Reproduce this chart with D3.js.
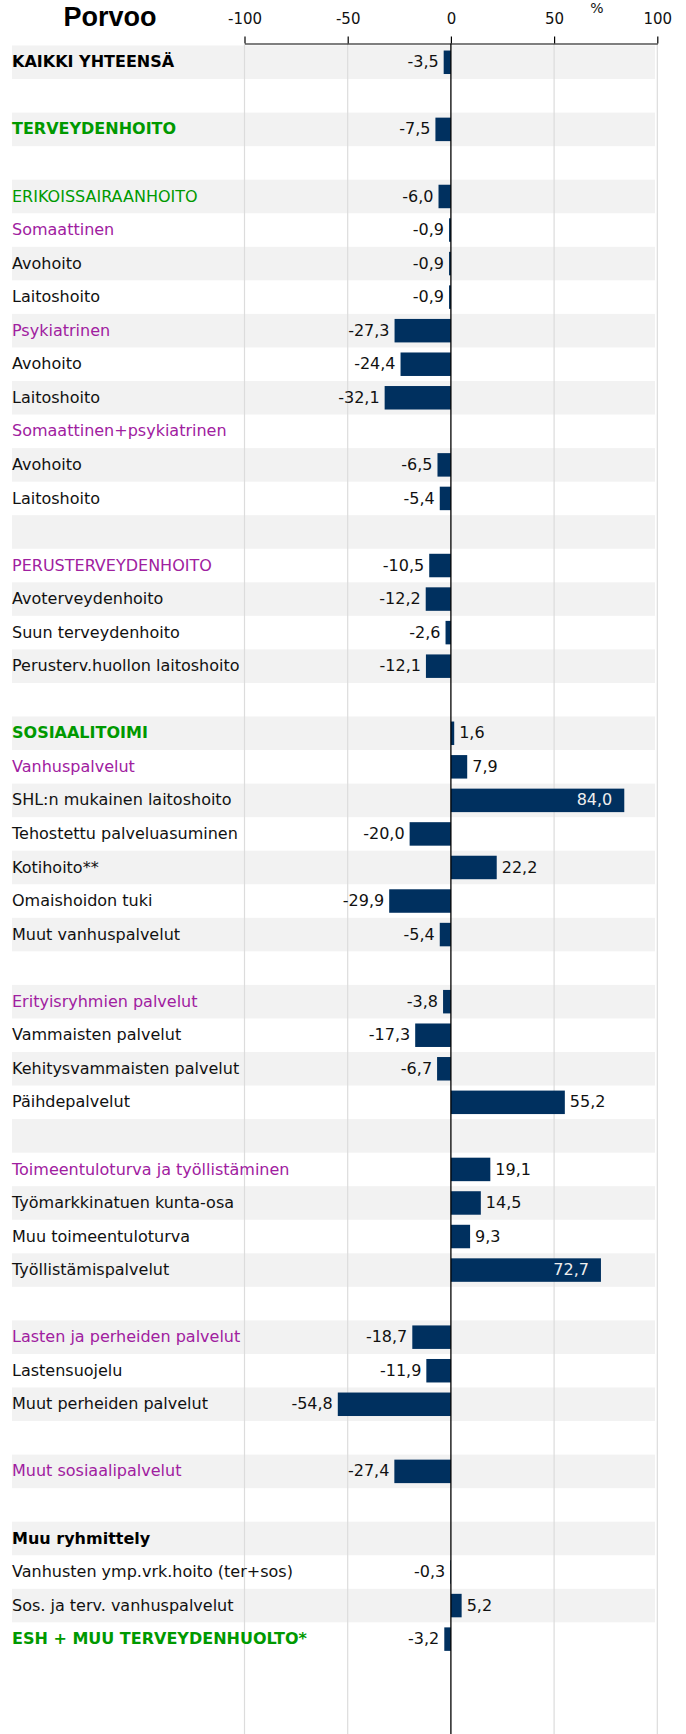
<!DOCTYPE html>
<html>
<head>
<meta charset="utf-8">
<title>Porvoo</title>
<script src="https://d3js.org/d3.v7.min.js"></script>
<style>
  body { margin: 0; background: #fff; }
  text { font-family: "DejaVu Sans", Verdana, sans-serif; }
</style>
</head>
<body>
<svg width="686" height="1734"></svg>
<script>
// rivien nimet, ylhäältä alas ("" = tyhjä rivi)
var categories = [
  "KAIKKI YHTEENSÄ", "", "TERVEYDENHOITO", "",
  "ERIKOISSAIRAANHOITO", "Somaattinen", "Avohoito", "Laitoshoito",
  "Psykiatrinen", "Avohoito", "Laitoshoito", "Somaattinen+psykiatrinen",
  "Avohoito", "Laitoshoito", "",
  "PERUSTERVEYDENHOITO", "Avoterveydenhoito", "Suun terveydenhoito", "Perusterv.huollon laitoshoito", "",
  "SOSIAALITOIMI", "Vanhuspalvelut", "SHL:n mukainen laitoshoito", "Tehostettu palveluasuminen",
  "Kotihoito**", "Omaishoidon tuki", "Muut vanhuspalvelut", "",
  "Erityisryhmien palvelut", "Vammaisten palvelut", "Kehitysvammaisten palvelut", "Päihdepalvelut", "",
  "Toimeentuloturva ja työllistäminen", "Työmarkkinatuen kunta-osa", "Muu toimeentuloturva", "Työllistämispalvelut", "",
  "Lasten ja perheiden palvelut", "Lastensuojelu", "Muut perheiden palvelut", "",
  "Muut sosiaalipalvelut", "",
  "Muu ryhmittely", "Vanhusten ymp.vrk.hoito (ter+sos)", "Sos. ja terv. vanhuspalvelut", "ESH + MUU TERVEYDENHUOLTO*"
];
// muutos % (null = ei arvoa)
var values = [
  -3.5, null, -7.5, null,
  -6.0, -0.9, -0.9, -0.9,
  -27.3, -24.4, -32.1, null,
  -6.5, -5.4, null,
  -10.5, -12.2, -2.6, -12.1, null,
  1.6, 7.9, 84.0, -20.0,
  22.2, -29.9, -5.4, null,
  -3.8, -17.3, -6.7, 55.2, null,
  19.1, 14.5, 9.3, 72.7, null,
  -18.7, -11.9, -54.8, null,
  -27.4, null,
  null, -0.3, 5.2, -3.2
];
// rivin taso: total, main, sector, group, item, blank
var levels = [
  "total", "blank", "main", "blank",
  "sector", "group", "item", "item",
  "group", "item", "item", "group",
  "item", "item", "blank",
  "group", "item", "item", "item", "blank",
  "main", "group", "item", "item",
  "item", "item", "item", "blank",
  "group", "item", "item", "item", "blank",
  "group", "item", "item", "item", "blank",
  "group", "item", "item", "blank",
  "group", "blank",
  "total", "item", "item", "main"
];
var tickValues = [-100, -50, 0, 50, 100];

var svg = d3.select("svg");
var rowH = 33.55;
var top0 = 45.5;

var x = d3.scaleLinear().domain([-100, 100]).range([244.5, 657.3]);
var y = d3.scaleBand()
  .domain(d3.range(categories.length))
  .range([top0, top0 + rowH * categories.length]);

var levelColor = { total: "#000", main: "#009900", sector: "#009900", group: "#a020a0", item: "#111", blank: "#000" };
var levelWeight = { total: "bold", main: "bold", sector: "normal", group: "normal", item: "normal", blank: "normal" };

// raidat
svg.append("g").selectAll("rect")
  .data(d3.range(categories.length).filter(function (i) { return i % 2 === 0; }))
  .enter().append("rect")
  .attr("x", 12).attr("width", 643)
  .attr("y", function (i) { return y(i); })
  .attr("height", y.bandwidth())
  .attr("fill", "#f2f2f2");

// apuviivat
svg.append("g").selectAll("line")
  .data(tickValues.filter(function (d) { return d !== 0; }))
  .enter().append("line")
  .attr("x1", function (d) { return x(d); })
  .attr("x2", function (d) { return x(d); })
  .attr("y1", 44).attr("y2", 1734)
  .attr("stroke", "#dcdcdc").attr("stroke-width", 1.2);

// akseli ylhäällä
var axis = svg.append("g")
  .attr("transform", "translate(0,43.5)")
  .call(d3.axisTop(x).tickValues(tickValues).tickSize(7).tickSizeOuter(0)
    .tickFormat(function (d) { return String(d); }));
axis.selectAll("path, line").attr("stroke", "#000").attr("stroke-width", 1.2);
axis.selectAll("text")
  .attr("font-family", "DejaVu Sans")
  .attr("font-size", 15).attr("fill", "#111").attr("dy", "-9.5");

svg.append("text")
  .attr("x", 597).attr("y", 13)
  .attr("text-anchor", "middle").attr("font-size", 14).attr("fill", "#111")
  .text("%");

svg.append("text")
  .attr("x", 110).attr("y", 26)
  .attr("text-anchor", "middle")
  .style("font-family", "'Liberation Sans', Arial, sans-serif")
  .attr("font-weight", "bold").attr("font-size", 27)
  .text("Porvoo");

// rivien nimet
svg.append("g").selectAll("text")
  .data(categories)
  .enter().append("text")
  .attr("x", 12)
  .attr("y", function (d, i) { return y(i) + y.bandwidth() / 2; })
  .attr("dy", "0.32em")
  .attr("font-size", 16)
  .attr("font-weight", function (d, i) { return levelWeight[levels[i]]; })
  .attr("fill", function (d, i) { return levelColor[levels[i]]; })
  .text(function (d) { return d; });

// palkit
var data = values.map(function (v, i) { return { i: i, v: v }; })
  .filter(function (d) { return d.v !== null; });

svg.append("g").selectAll("rect")
  .data(data)
  .enter().append("rect")
  .attr("x", function (d) { return x(Math.min(0, d.v)); })
  .attr("width", function (d) { return Math.abs(x(d.v) - x(0)); })
  .attr("y", function (d) { return y(d.i) + rowH * 0.15; })
  .attr("height", rowH * 0.7)
  .attr("fill", "#00305f");

// nollaviiva
svg.append("line")
  .attr("x1", x(0)).attr("x2", x(0))
  .attr("y1", 43.5).attr("y2", 1734)
  .attr("stroke", "#000").attr("stroke-width", 1.3);

// arvot
function fmt(v) { return v.toFixed(1).replace(".", ","); }
svg.append("g").selectAll("text")
  .data(data)
  .enter().append("text")
  .attr("font-size", 16)
  .attr("y", function (d) { return y(d.i) + y.bandwidth() / 2; })
  .attr("dy", "0.32em")
  .attr("x", function (d) {
    if (d.v > 60) return x(d.v) - 12;
    return d.v < 0 ? x(d.v) - 5 : x(d.v) + 5;
  })
  .attr("text-anchor", function (d) { return d.v < 0 || d.v > 60 ? "end" : "start"; })
  .attr("fill", function (d) { return d.v > 60 ? "#eeeeee" : "#111"; })
  .text(function (d) { return fmt(d.v); });
</script>
</body>
</html>
